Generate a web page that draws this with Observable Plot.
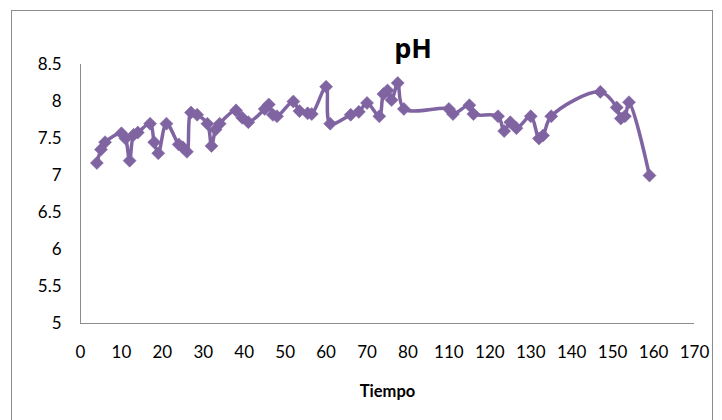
<!DOCTYPE html>
<html><head><meta charset="utf-8">
<script src="https://cdn.jsdelivr.net/npm/d3@7"></script>
<script src="https://cdn.jsdelivr.net/npm/@observablehq/plot@0.6"></script>
<style>
html,body{margin:0;padding:0;background:#fff;}
#wrap{position:relative;width:722px;height:420px;overflow:hidden;}
#border{position:absolute;left:11px;top:10px;width:702px;height:420px;border:1px solid #8c8c8c;box-sizing:border-box;}
#title{position:absolute;left:0;width:826px;top:29px;text-align:center;font:bold 27px "Open Sans",Lato,sans-serif;color:#000;}
#chart{position:absolute;left:0;top:0;}
</style>
</head><body>
<div id="wrap"><div id="border"></div><div id="chart"></div><div id="title">pH</div></div>
<script>
const time = [4,5,6,10,11,12,13,14,17,18,19,21,24,25,26,27,28.5,31,32,33,34,38,39.5,41,45,46,47,48,52,53.5,55.5,56.5,60,61,66,68,70,73,74,75,76,77.5,79,110,111,115,116,122,123.5,125,126.5,130,132,133,135,147,151,152,153,154,159];
const ph = [7.17,7.35,7.45,7.57,7.5,7.2,7.55,7.58,7.7,7.45,7.3,7.7,7.42,7.38,7.32,7.85,7.82,7.7,7.4,7.62,7.7,7.88,7.78,7.72,7.9,7.96,7.82,7.8,8.0,7.87,7.84,7.83,8.2,7.7,7.82,7.86,7.98,7.8,8.1,8.15,8.02,8.25,7.9,7.9,7.83,7.95,7.83,7.8,7.6,7.72,7.64,7.8,7.5,7.54,7.8,8.13,7.92,7.77,7.8,7.99,7.0];
const xTickLabels = [0,10,20,30,40,50,60,70,80,110,120,130,140,150,160,170];
const yTicks = [5,5.5,6,6.5,7,7.5,8,8.5];
const xAxisTitle = "Tiempo";

// broken time axis: values after the gap (80 -> 110) are shifted left by 20
const gapShift = t => (t > 95 ? t - 20 : t);
const data = time.map((t, i) => ({t: gapShift(t), ph: ph[i]}));
const xTicks = xTickLabels.map(gapShift);
const labelOf = new Map(xTickLabels.map(v => [gapShift(v), String(v)]));

const color = "#8064A2";
const chart = Plot.plot({
  width: 722, height: 420,
  marginLeft: 80, marginRight: 28, marginTop: 64, marginBottom: 97,
  style: {fontFamily: "Lato, 'Open Sans', sans-serif", fontSize: "17px", color: "#000", background: "transparent"},
  x: {domain: [0, gapShift(170)], label: null},
  y: {domain: [5, 8.5], label: null},
  marks: [
    Plot.ruleY([5], {stroke: "#8c8c8c", strokeWidth: 1}),
    Plot.ruleX([0], {y1: 5, y2: 8.5, stroke: "#8c8c8c", strokeWidth: 1}),
    Plot.axisX(xTicks, {tickSize: 0, tickPadding: 22, tickFormat: d => labelOf.get(d), fontSize: 17}),
    Plot.axisY(yTicks, {tickSize: 0, tickPadding: 19, tickFormat: d => String(d), fontSize: 17}),
    Plot.text([xAxisTitle], {frameAnchor: "bottom", dy: 73, fontWeight: "bold", fontSize: 16.5}),
    Plot.line(data, {x: "t", y: "ph", stroke: color, strokeWidth: 3.5, curve: "catmull-rom"}),
    Plot.dot(data, {x: "t", y: "ph", symbol: "square", r: 5.2, rotate: 45, fill: color, stroke: color, strokeWidth: 0.5})
  ]
});
document.getElementById("chart").appendChild(chart);
</script>
</body></html>
